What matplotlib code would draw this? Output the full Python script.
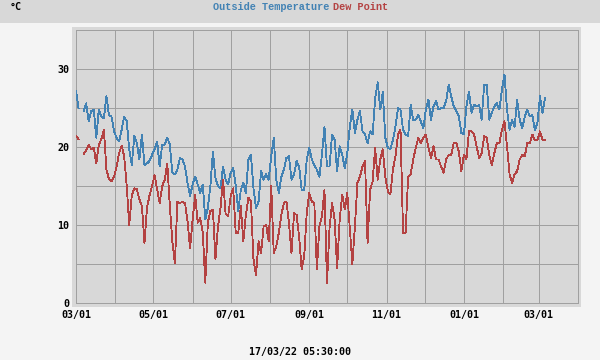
import numpy as np
import matplotlib
matplotlib.use("Agg")
import matplotlib.pyplot as plt
import matplotlib.dates as mdates
from matplotlib.patches import Rectangle
import datetime as dt

nan = np.nan
start_date = "2021-03-01"
step_days = 2

temperature = [
    27.2, 25.0, nan, 24.6, 25.6, 23.3, 24.6, 24.8, 21.2, 24.8, 23.9, 23.7, 26.5, 24.1, 23.9, 22.0,
    21.2, 20.7, 22.2, 23.9, 23.3, 19.7, 17.7, 21.4, 20.5, 18.4, 21.6, 17.7, 17.9, 18.2, 19.0, 19.7,
    20.7, 17.5, 20.3, 20.3, 21.2, 20.3, 16.7, 16.5, 17.1, 18.6, 18.4, 17.5, 15.4, 13.7, 15.2, 16.2,
    15.2, 14.1, 15.2, 10.7, 12.2, 15.0, 19.4, 16.0, 15.0, 14.7, 17.5, 15.8, 15.2, 16.7, 17.3, 15.0,
    11.8, 14.5, 15.4, 14.1, 18.4, 19.0, 14.7, 12.2, 13.0, 16.9, 15.8, 16.5, 15.8, 18.8, 21.2, 15.8,
    14.1, 16.2, 17.1, 18.6, 18.8, 15.8, 16.5, 18.2, 17.5, 14.5, 14.5, 18.4, 19.9, 18.4,
    17.7, 17.1, 16.2, 19.0, 22.6, 17.5, 17.5, 21.6, 20.9, 16.9, 20.1, 19.0, 17.3, 19.2, 22.6, 24.8,
    21.8, 23.5, 24.6, 22.0, 21.6, 20.5, 22.0, 21.6, 26.3, 28.3, 24.8, 27.1, 21.2, 19.9, 19.7, 20.9,
    22.6, 25.0, 24.8, 22.2, 21.6, 21.4, 25.4, 23.5, 23.5, 24.1, 23.3, 22.4, 24.8, 26.1, 23.5,
    25.2, 25.9, 24.8, 25.0, 25.0, 25.9, 28.0, 26.5, 25.2, 24.6, 23.9, 21.8, 21.6, 25.2, 27.1, 24.4,
    25.4, 25.2, 25.4, 23.5, 28.0, 28.0, 23.5, 24.4, 25.2, 25.6, 24.8, 27.4, 29.3, 24.8, 22.2, 23.5,
    22.6, 26.0, 23.5, 22.4, 23.9, 24.8, 23.9, 24.1, 22.2, 23.1, 26.5, 24.4, 26.3,
]

dew_point = [
    21.4, 21.0, nan, 19.1, 19.6, 20.3, 19.7, 19.9, 17.9, 20.3, 21.0, 22.2, 17.1, 15.9, 15.6, 16.2,
    17.5, 19.2, 20.2, 18.8, 15.0, 10.0, 13.8, 14.7, 14.6, 13.3, 12.4, 7.7, 12.2, 13.8, 15.0, 16.4,
    14.6, 12.8, 15.0, 15.8, 17.9, 12.5, 7.9, 5.1, 13.0, 12.8, 13.0, 12.8, 10.5, 7.0, 10.7, 13.8,
    10.3, 10.9, 9.0, 2.6, 10.3, 11.8, 12.0, 5.6, 9.8, 12.2, 15.8, 11.5, 11.1, 13.7, 14.7, 9.0,
    9.0, 12.4, 7.9, 11.3, 13.5, 13.0, 5.6, 3.6, 7.9, 6.4, 9.8, 10.0, 7.9, 15.0, 6.4, 7.3,
    9.0, 11.3, 12.8, 13.0, 10.3, 6.4, 11.5, 11.3, 8.5, 4.3, 5.9, 11.5, 14.1, 13.0,
    12.8, 4.3, 9.8, 11.1, 14.5, 2.6, 9.6, 12.8, 10.7, 4.5, 10.7, 13.9, 12.0, 14.1, 9.6, 5.0,
    9.8, 15.4, 16.2, 17.5, 18.2, 7.7, 14.5, 15.6, 19.9, 15.8, 18.4, 19.7, 16.2, 14.3, 13.9, 17.1,
    18.8, 21.6, 22.2, 9.0, 9.0, 16.2, 16.5, 18.4, 19.9, 21.2, 20.5, 21.2, 21.6, 19.9, 18.6,
    20.1, 18.4, 18.4, 17.5, 16.7, 18.4, 19.0, 19.0, 20.5, 20.5, 19.4, 16.9, 19.0, 18.4, 22.0, 22.0,
    21.6, 20.1, 18.6, 19.2, 21.4, 21.2, 19.0, 17.7, 19.2, 20.5, 20.5, 22.2, 23.3, 20.1, 16.5, 15.4,
    16.5, 16.9, 18.4, 19.0, 18.8, 20.5, 20.5, 21.6, 20.9, 20.9, 22.0, 20.9, 20.9,
]

y_ticks = [0, 5, 10, 15, 20, 25, 30, 35]
y_labels = ["0", "", "10", "", "20", "", "30", ""]
x_start = "2021-03-01"
x_end = "2022-04-01"
title_temp = "Outside Temperature"
title_dew = "Dew Point"
unit_label = "°C"
timestamp = "17/03/22 05:30:00"

c_temp = "#4282b4"
c_dew = "#b44242"
c_grid = "#a0a0a0"
c_bg = "#f4f4f4"
c_plot = "#d8d8d8"

W, H = 600, 360
fig = plt.figure(figsize=(W / 100, H / 100), dpi=100, facecolor=c_bg)

def fx(px):
    return px / W

def fy(py):
    return 1 - py / H

# top band
fig.patches.append(Rectangle((0, fy(23)), 1, 23 / H, transform=fig.transFigure,
                             facecolor=c_plot, edgecolor="none", zorder=-5))
# plot background with border
fig.patches.append(Rectangle((fx(72), fy(307)), (581 - 72) / W, (307 - 27) / H,
                             transform=fig.transFigure, facecolor=c_plot,
                             edgecolor="none", zorder=-5))

ax = fig.add_axes([fx(76), fy(303), (578 - 76) / W, (303 - 30) / H])
ax.set_zorder(2)
ax.set_facecolor(c_plot)

start = np.datetime64(start_date)
dates = start + np.arange(len(temperature)) * np.timedelta64(step_days, "D")
dates = dates.astype("datetime64[D]").astype(dt.datetime)

LW = 0.6
ax.plot(dates, temperature, color=c_temp, lw=LW, antialiased=False, zorder=3)
ax.plot(dates, dew_point, color=c_dew, lw=LW, antialiased=False, zorder=4)

ax.set_xlim(dt.datetime.fromisoformat(x_start), dt.datetime.fromisoformat(x_end))
ax.set_ylim(y_ticks[0], y_ticks[-1])

mono = "DejaVu Sans Mono"
ax.set_yticks(y_ticks)
ax.set_yticklabels(y_labels, fontfamily=mono, fontweight="bold", fontsize=7.2)
ax.xaxis.set_major_locator(mdates.MonthLocator(bymonth=[3, 5, 7, 9, 11, 1]))
ax.xaxis.set_major_formatter(mdates.DateFormatter("%m/%d"))
ax.xaxis.set_minor_locator(mdates.MonthLocator())
for lab in ax.get_xticklabels():
    lab.set_fontfamily(mono)
    lab.set_fontweight("bold")
    lab.set_fontsize(7.2)
ax.tick_params(axis="both", which="both", length=0, pad=5, colors="black")
GLW = 0.72
ax.grid(True, which="both", axis="x", color=c_grid, lw=GLW, zorder=1)
ax.grid(True, which="major", axis="y", color=c_grid, lw=GLW, zorder=1)
ax.set_axisbelow(True)
for s in ax.spines.values():
    s.set_color(c_grid)
    s.set_linewidth(GLW)

tfont = dict(family="Liberation Mono", weight="bold", fontsize=7.4)
fig.text(fx(213), fy(7), title_temp, color=c_temp, ha="left", va="center", **tfont)
fig.text(fx(333), fy(7), title_dew, color=c_dew, ha="left", va="center", **tfont)
fig.text(fx(10), fy(7), unit_label, color="black", ha="left", va="center",
         family=mono, weight="bold", fontsize=7.2)
fig.text(fx(300), fy(352), timestamp, color="black", ha="center", va="center",
         family=mono, weight="bold", fontsize=7.2)

fig.savefig("out.png", dpi=100, facecolor=c_bg)
